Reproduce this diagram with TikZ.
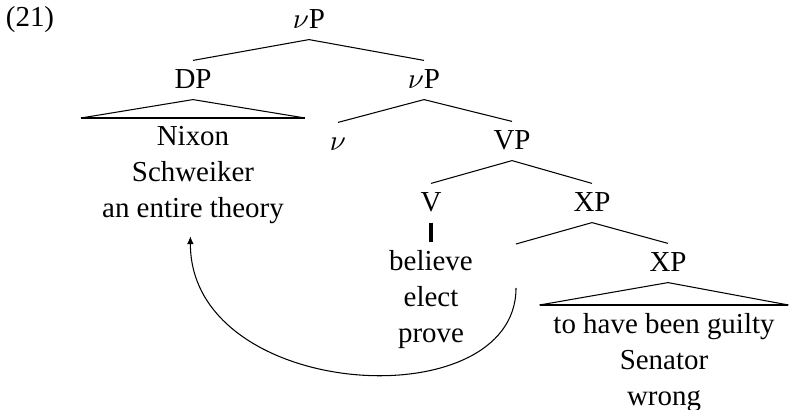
\documentclass[tikz,border=0pt]{standalone}
\usepackage{fontspec}
\setmainfont{Liberation Serif}
\usetikzlibrary{arrows.meta}

\begin{document}
\begin{tikzpicture}[
  x=0.38pt,y=-0.38pt,
  font=\fontsize{11pt}{13.7pt}\selectfont,
  cat/.style={inner xsep=2pt,inner ysep=3pt,text height=1.6ex,text depth=.25ex},
  leaf/.style={anchor=north,align=center,inner sep=3pt},
  roof/.style={leaf,minimum width=#1},
]
  \useasboundingbox (0,0) rectangle (789,409);

  \node (ex) at (30,20) {(21)};

  % the tree
  \node[cat] (vP) at (309,20) {$\nu$P};
  \node[cat] (DP) at (193,80) {DP};
  \node[cat] (vPbar) at (424,80) {$\nu$P};
  \node[cat] (v) at (338,142) {$\nu$};
  \node[cat] (VP) at (512,141) {VP};
  \node[cat] (V) at (431,203) {V};
  \node[cat] (XP) at (592,203) {XP};
  \coordinate (trace) at (516,244);
  \node[cat] (XPlow) at (668,263) {XP};

  \node[roof=84.7pt] (dpleaf) at (193,118) {Nixon \\ Schweiker \\ an entire theory};
  \node[leaf] (verbs) at (431,242) {believe \\ elect \\ prove};
  \node[roof=94.2pt] (xpleaf) at (664,305) {to have been guilty \\ Senator \\ wrong};

  \draw (vP.south) -- (DP.north);
  \draw (vP.south) -- (vPbar.north);
  \draw (vPbar.south) -- (v.north);
  \draw (vPbar.south) -- (VP.north);
  \draw (VP.south) -- (V.north);
  \draw (VP.south) -- (XP.north);
  \draw (XP.south) -- (trace);
  \draw (XP.south) -- (XPlow.north);
  \draw[very thick] (V.south) -- (verbs.north);

  % roofs
  \draw (dpleaf.north west) -- (DP.south) -- (dpleaf.north east);
  \draw[thick] (dpleaf.north west) -- (dpleaf.north east);
  \draw (xpleaf.north west) -- (XPlow.south) -- (xpleaf.north east);
  \draw[thick] (xpleaf.north west) -- (xpleaf.north east);

  % movement
  \coordinate (gap) at (516,288);
  \draw[-{Latex[length=3pt,width=2.6pt]}] (gap) .. controls +(0,132) and +(0,165) .. ([xshift=-1pt,yshift=-1.5pt]dpleaf.south);
\end{tikzpicture}
\end{document}
